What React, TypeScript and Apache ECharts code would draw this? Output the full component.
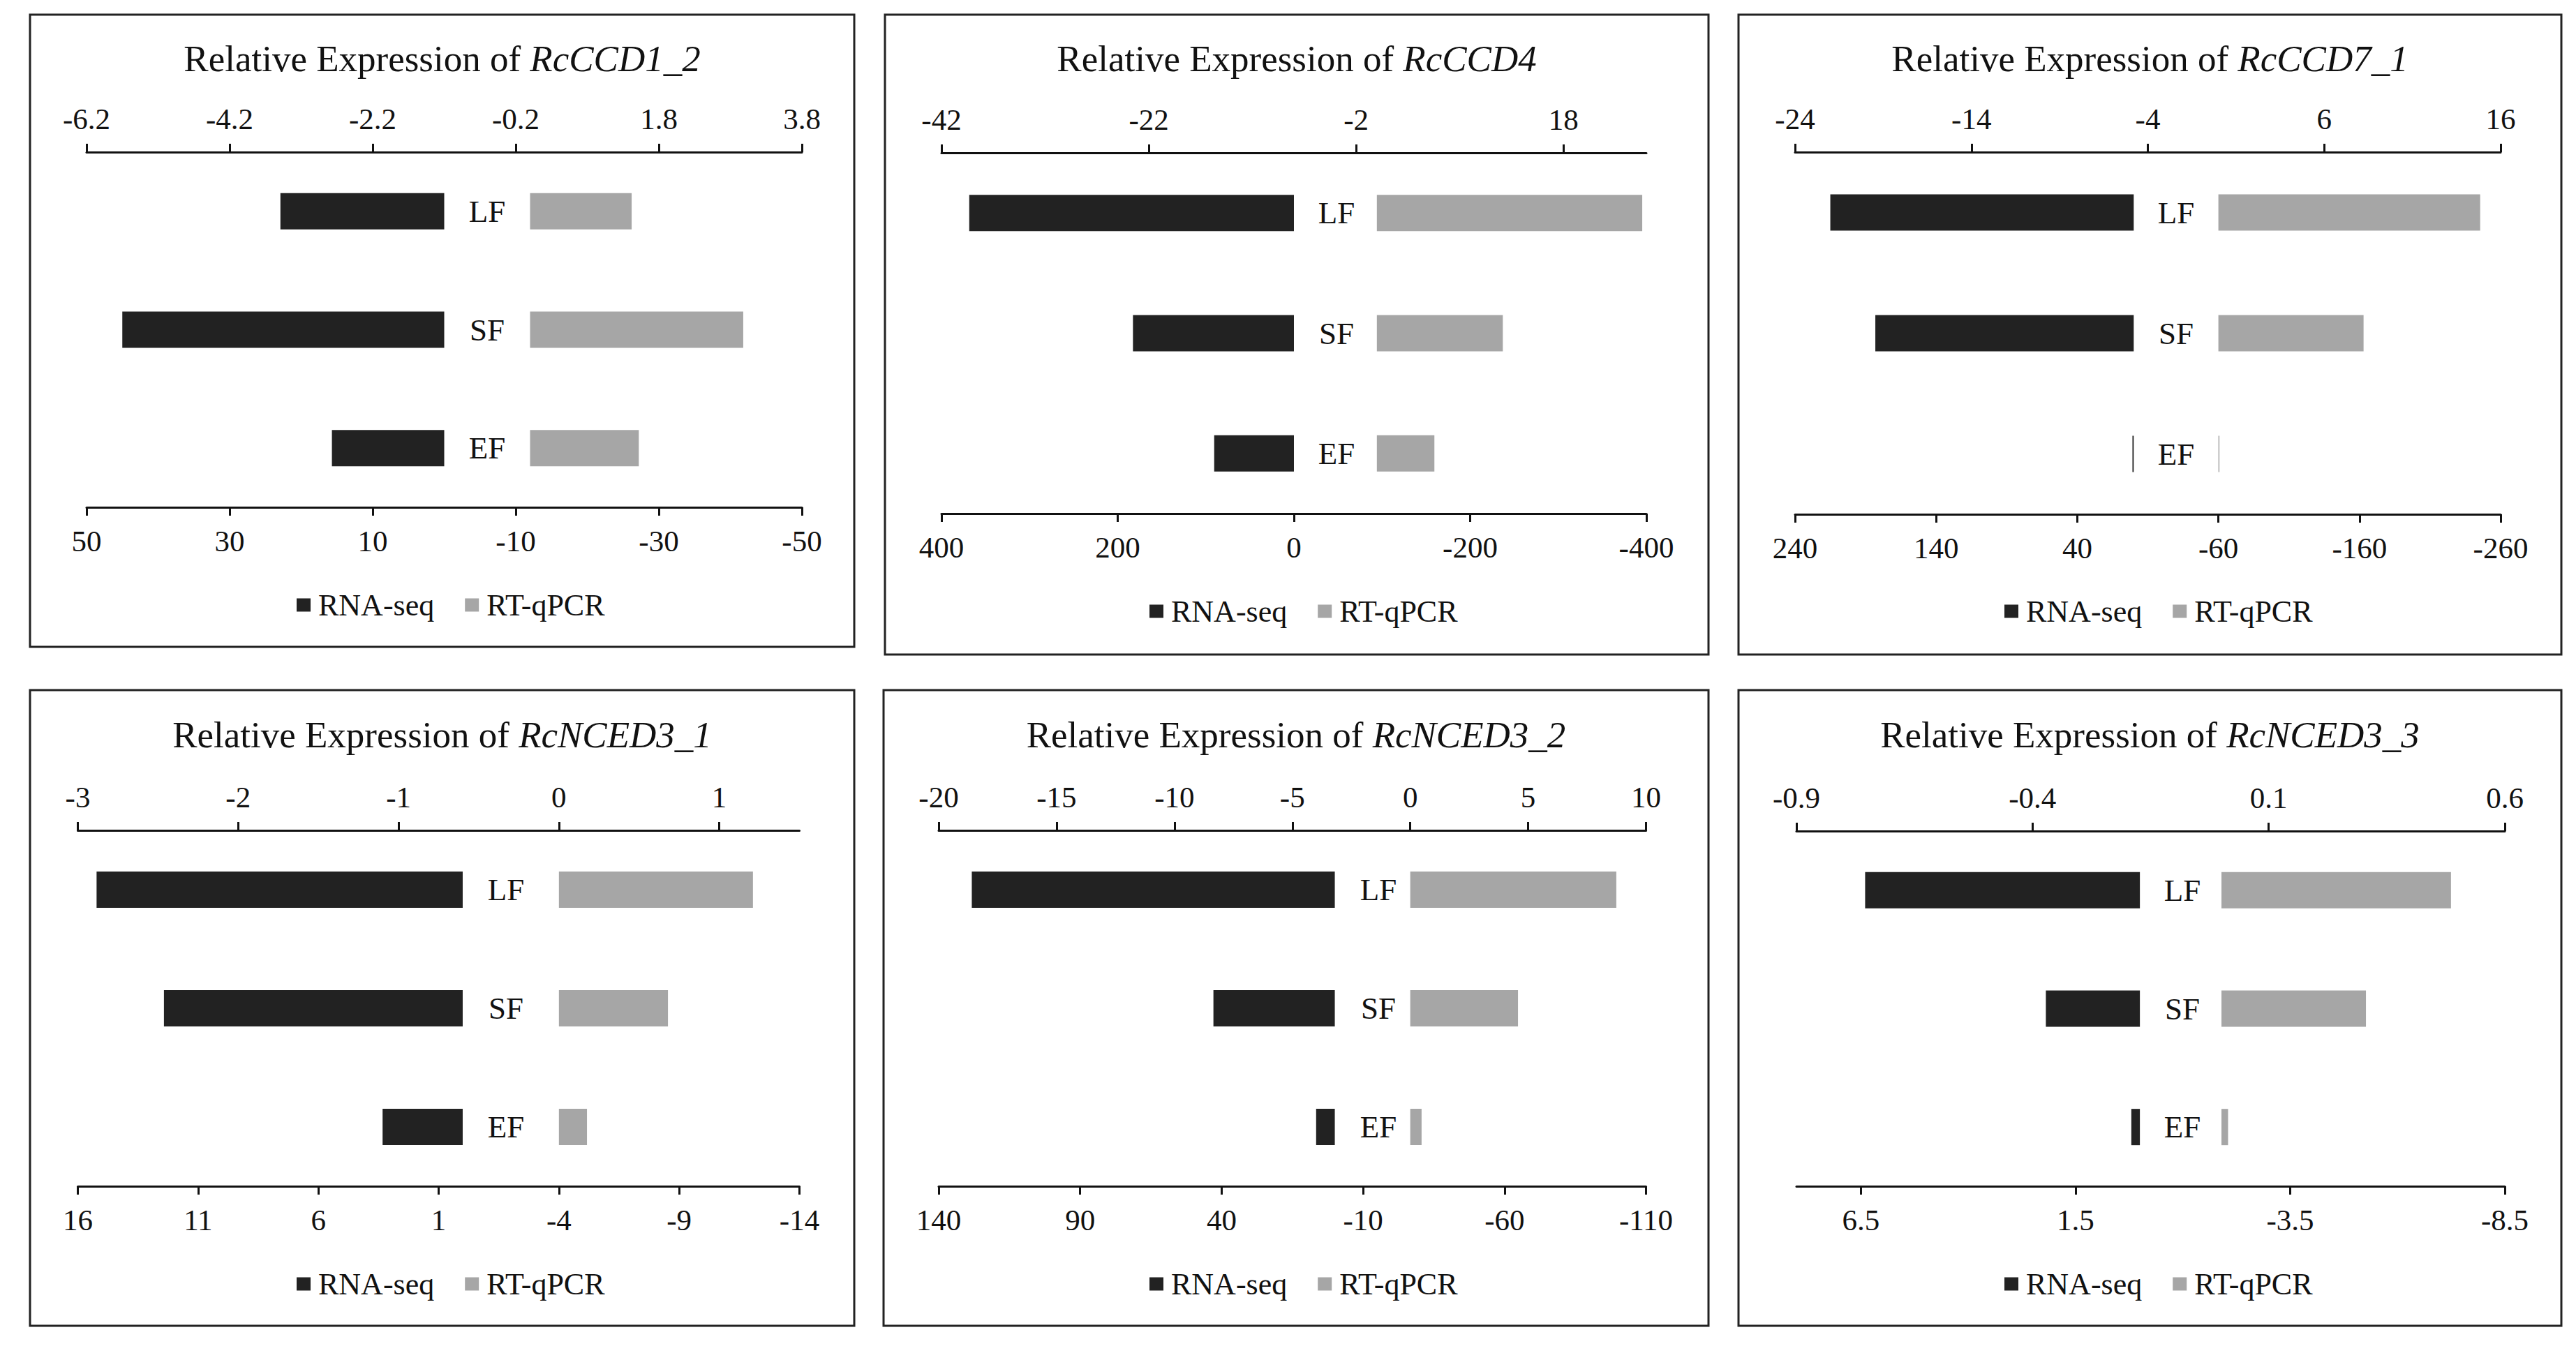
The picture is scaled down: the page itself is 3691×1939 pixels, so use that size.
import React, { useEffect, useRef } from 'react';
import * as echarts from 'echarts';

// ---------- data ----------
const categories = ['LF', 'SF', 'EF'];
const geneNames = ['RcCCD1_2', 'RcCCD4', 'RcCCD7_1', 'RcNCED3_1', 'RcNCED3_2', 'RcNCED3_3'];
const seriesNames = ['RNA-seq', 'RT-qPCR'];

// RNA-seq values (drawn on the reversed bottom axis)
const rnaSeqCCD1_2 = [22.9, 45.0, 15.7];
const rnaSeqCCD4 = [368.5, 182.7, 90.5];
const rnaSeqCCD7_1 = [215, 183.1, 0.9];
const rnaSeqNCED3_1 = [15.22, 12.42, 3.33];
const rnaSeqNCED3_2 = [128.3, 42.9, 6.6];
const rnaSeqNCED3_3 = [6.4, 2.19, 0.2];

// RT-qPCR values (drawn on the top axis)
const rtqpcrCCD1_2 = [1.42, 2.98, 1.52];
const rtqpcrCCD4 = [25.6, 12.15, 5.55];
const rtqpcrCCD7_1 = [14.84, 8.23, 0.06];
const rtqpcrNCED3_1 = [1.21, 0.68, 0.175];
const rtqpcrNCED3_2 = [8.74, 4.57, 0.48];
const rtqpcrNCED3_3 = [0.486, 0.306, 0.014];

// top axis (RT-qPCR) ranges and tick labels
const rtRangeCCD1_2 = [-6.2, 3.8];
const rtTicksCCD1_2 = [-6.2, -4.2, -2.2, -0.2, 1.8, 3.8];
const rtRangeCCD4 = [-42, 26];
const rtTicksCCD4 = [-42, -22, -2, 18];
const rtRangeCCD7_1 = [-24, 16];
const rtTicksCCD7_1 = [-24, -14, -4, 6, 16];
const rtRangeNCED3_1 = [-3, 1.5];
const rtTicksNCED3_1 = [-3, -2, -1, 0, 1];
const rtRangeNCED3_2 = [-20, 10];
const rtTicksNCED3_2 = [-20, -15, -10, -5, 0, 5, 10];
const rtRangeNCED3_3 = [-0.9, 0.6];
const rtTicksNCED3_3 = [-0.9, -0.4, 0.1, 0.6];

// bottom axis (RNA-seq, reversed) ranges and tick labels
const rnaRangeCCD1_2 = [-50, 50];
const rnaTicksCCD1_2 = [50, 30, 10, -10, -30, -50];
const rnaRangeCCD4 = [-400, 400];
const rnaTicksCCD4 = [400, 200, 0, -200, -400];
const rnaRangeCCD7_1 = [-260, 240];
const rnaTicksCCD7_1 = [240, 140, 40, -60, -160, -260];
const rnaRangeNCED3_1 = [-14, 16];
const rnaTicksNCED3_1 = [16, 11, 6, 1, -4, -9, -14];
const rnaRangeNCED3_2 = [-110, 140];
const rnaTicksNCED3_2 = [140, 90, 40, -10, -60, -110];
const rnaRangeNCED3_3 = [-8.5, 8];
const rnaTicksNCED3_3 = [6.5, 1.5, -3.5, -8.5];

const rnaSeqValues = [rnaSeqCCD1_2, rnaSeqCCD4, rnaSeqCCD7_1, rnaSeqNCED3_1, rnaSeqNCED3_2, rnaSeqNCED3_3];
const rtqpcrValues = [rtqpcrCCD1_2, rtqpcrCCD4, rtqpcrCCD7_1, rtqpcrNCED3_1, rtqpcrNCED3_2, rtqpcrNCED3_3];
const rtRanges = [rtRangeCCD1_2, rtRangeCCD4, rtRangeCCD7_1, rtRangeNCED3_1, rtRangeNCED3_2, rtRangeNCED3_3];
const rtTicks = [rtTicksCCD1_2, rtTicksCCD4, rtTicksCCD7_1, rtTicksNCED3_1, rtTicksNCED3_2, rtTicksNCED3_3];
const rnaRanges = [rnaRangeCCD1_2, rnaRangeCCD4, rnaRangeCCD7_1, rnaRangeNCED3_1, rnaRangeNCED3_2, rnaRangeNCED3_3];
const rnaTicks = [rnaTicksCCD1_2, rnaTicksCCD4, rnaTicksCCD7_1, rnaTicksNCED3_1, rnaTicksNCED3_2, rnaTicksNCED3_3];

// ---------- layout (pixels) ----------
const layout = [
  { box: [43, 21, 1224, 927], grid: [124, 218, 1149, 727], labelX: 698, titleY: 84, legendX: 425, legendY: 867 },
  { box: [1268, 21, 2448, 938], grid: [1349, 219, 2359, 736], labelX: 1915, titleY: 84, legendX: 1647, legendY: 876 },
  { box: [2491, 21, 3670, 938], grid: [2572, 218, 3583, 737], labelX: 3118, titleY: 84, legendX: 2872, legendY: 876 },
  { box: [43, 989, 1224, 1900], grid: [111.5, 1190, 1145.5, 1700], labelX: 725, titleY: 1053, legendX: 425, legendY: 1840 },
  { box: [1266, 989, 2448, 1900], grid: [1345, 1190, 2358.5, 1700], labelX: 1975, titleY: 1053, legendX: 1647, legendY: 1840 },
  { box: [2491, 989, 3670, 1900], grid: [2574, 1191, 3589, 1700], labelX: 3127, titleY: 1053, legendX: 2872, legendY: 1840 },
];

const FONT = '"Liberation Serif", "Times New Roman", serif';
const INK = '#111111';
const DARK = '#222222';
const GRAY = '#a6a6a6';
const TICK_FS = 43;
const TITLE_FS = 53;

const fmt = (v: number) => String(Math.round(v * 1000) / 1000);

function buildOption() {
  const grids: any[] = [];
  const xAxes: any[] = [];
  const yAxes: any[] = [];
  const series: any[] = [];
  const legends: any[] = [];
  const graphics: any[] = [];

  layout.forEach((p, i) => {
    const [gl, gt, gr, gb] = p.grid;
    grids.push({ left: gl, top: gt, width: gr - gl, height: gb - gt, outerBoundsMode: 'none', containLabel: false });

    const axisCommon = {
      type: 'value',
      gridIndex: i,
      splitLine: { show: false },
      axisLine: { show: true, onZero: false, lineStyle: { color: INK, width: 3 } },
    };
    // top axis: RT-qPCR
    xAxes.push({
      ...axisCommon,
      position: 'top',
      min: rtRanges[i][0],
      max: rtRanges[i][1],
      axisTick: { show: true, length: 12, customValues: rtTicks[i], lineStyle: { color: INK, width: 3 } },
      axisLabel: { customValues: rtTicks[i], formatter: fmt, fontSize: TICK_FS, fontFamily: FONT, color: INK, margin: 26 },
    });
    // bottom axis: RNA-seq (reversed)
    xAxes.push({
      ...axisCommon,
      position: 'bottom',
      inverse: true,
      min: rnaRanges[i][0],
      max: rnaRanges[i][1],
      axisTick: { show: true, length: 12, customValues: rnaTicks[i], lineStyle: { color: INK, width: 3 } },
      axisLabel: { customValues: rnaTicks[i], formatter: fmt, fontSize: TICK_FS, fontFamily: FONT, color: INK, margin: 27 },
    });
    yAxes.push({
      type: 'category',
      gridIndex: i,
      data: categories,
      inverse: true,
      position: 'left',
      offset: gl - p.labelX,
      axisLine: { show: false, onZero: false },
      axisTick: { show: false },
      splitLine: { show: false },
      axisLabel: { align: 'center', margin: 0, fontSize: 45, fontFamily: FONT, color: INK },
    });

    series.push({
      type: 'bar',
      name: seriesNames[0],
      xAxisIndex: 2 * i + 1,
      yAxisIndex: i,
      data: rnaSeqValues[i],
      barWidth: 52,
      barGap: '-100%',
      itemStyle: { color: DARK },
      silent: true,
    });
    series.push({
      type: 'bar',
      name: seriesNames[1],
      xAxisIndex: 2 * i,
      yAxisIndex: i,
      data: rtqpcrValues[i],
      barWidth: 52,
      barGap: '-100%',
      itemStyle: { color: GRAY },
      silent: true,
    });

    legends.push({
      data: seriesNames,
      left: p.legendX,
      top: p.legendY - 22,
      padding: 0,
      orient: 'horizontal',
      icon: 'rect',
      itemWidth: 20,
      itemHeight: 19,
      itemGap: 44,
      selectedMode: false,
      textStyle: { fontSize: 44, fontFamily: FONT, color: INK, padding: [0, 0, 0, 6] },
    });

    const [bx0, by0, bx1, by1] = p.box;
    graphics.push({
      type: 'rect',
      silent: true,
      shape: { x: bx0, y: by0, width: bx1 - bx0, height: by1 - by0 },
      style: { fill: 'none', stroke: DARK, lineWidth: 3 },
    });
    graphics.push({
      type: 'text',
      silent: true,
      x: (bx0 + bx1) / 2,
      y: p.titleY,
      style: {
        text: '{n|Relative Expression of }{i|' + geneNames[i] + '}',
        align: 'center',
        verticalAlign: 'middle',
        fontSize: TITLE_FS,
        fontFamily: FONT,
        fill: INK,
        rich: {
          n: { fontSize: TITLE_FS, fontFamily: FONT, fill: INK, color: INK },
          i: { fontSize: TITLE_FS, fontFamily: FONT, fontStyle: 'italic', fill: INK, color: INK },
        },
      },
    });
  });

  return {
    animation: false,
    backgroundColor: '#ffffff',
    grid: grids,
    xAxis: xAxes,
    yAxis: yAxes,
    legend: legends,
    series,
    graphic: { elements: graphics },
  };
}

export default function App() {
  const ref = useRef<HTMLDivElement>(null);
  useEffect(() => {
    if (!ref.current) return;
    const chart = echarts.init(ref.current, undefined, { renderer: 'svg' });
    chart.setOption(buildOption() as any);
    return () => chart.dispose();
  }, []);
  return (
    <div
      ref={ref}
      style={{ position: 'fixed', left: 0, top: 0, width: 3691, height: 1939, background: '#fff' }}
    />
  );
}
